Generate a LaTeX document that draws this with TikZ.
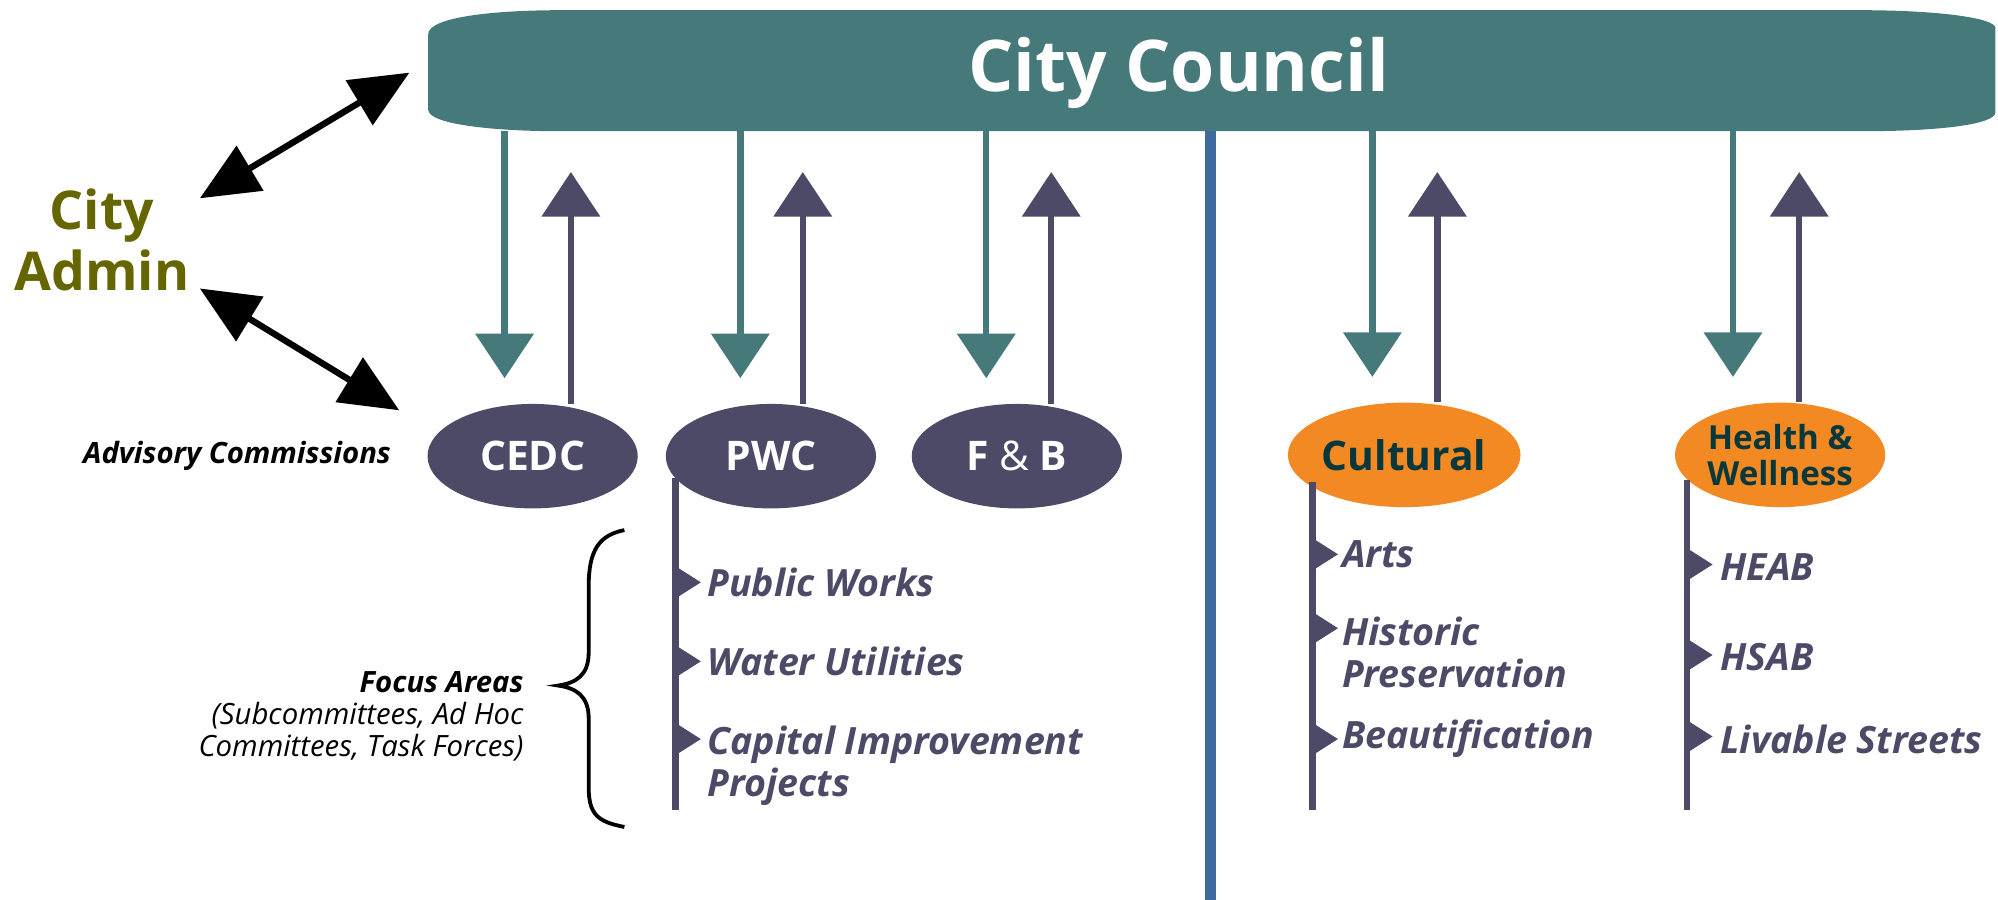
\documentclass[tikz,border=0pt]{standalone}
\usepackage{fontspec}
\setmainfont{Open Sans}
\usepackage{xcolor}
\usetikzlibrary{arrows.meta,shapes.geometric}
\definecolor{councilteal}{RGB}{69,121,122}
\definecolor{commpurple}{RGB}{77,74,104}
\definecolor{culturalorange}{RGB}{242,137,34}
\definecolor{dividerblue}{RGB}{62,106,158}
\definecolor{adminolive}{RGB}{102,102,0}
\definecolor{darkteal}{RGB}{8,56,60}

\begin{document}
\begin{tikzpicture}[x=1pt,y=-1pt]
\tikzset{down/.style={line width=5pt,draw=councilteal,-{Triangle[width=45pt,length=35pt]}}}
\tikzset{up/.style={line width=5pt,draw=commpurple,-{Triangle[width=45pt,length=35pt]}}}
\tikzset{both/.style={line width=5pt,{Triangle[width=40pt,length=46pt]}-{Triangle[width=40pt,length=46pt]}}}
\tikzset{comm/.style={ellipse,fill=commpurple,text=white,minimum width=165pt,minimum height=82pt,inner sep=0pt,font=\bfseries\fontsize{32}{36}\selectfont}}
\tikzset{orangecomm/.style={comm,fill=culturalorange,text=darkteal}}
\tikzset{stem/.style={line width=5pt,draw=commpurple}}
\tikzset{item/.style={anchor=west,align=left,text=commpurple,inner sep=0pt,font=\bfseries\itshape\fontsize{29.5}{33}\selectfont}}
\tikzset{flag/.pic={\fill[commpurple] (-2,-14) -- (20,0) -- (-2,14) -- cycle;}}

\useasboundingbox (0,0) rectangle (1568,706);

\fill[councilteal] (336,27) .. controls (336,13) and (390,8) .. (440,8) -- (1460,8)
  .. controls (1520,8) and (1566,14) .. (1566,22) -- (1566,88)
  .. controls (1566,98) and (1520,103) .. (1460,103) -- (440,103)
  .. controls (390,103) and (336,98) .. (336,86) -- cycle;
\node[text=white,font=\bfseries\fontsize{56}{60}\selectfont] (council) at (925,57) {City Council};
\coordinate (bar) at (950,103);
\coordinate (floor) at (950,706);
\draw[line width=9pt,draw=dividerblue] (bar) -- (floor);

\node[text=adminolive,align=center,inner sep=0pt,font=\bfseries\fontsize{42}{48}\selectfont] (admin) at (80,188) {City\\Admin};
\node[font=\bfseries\itshape\fontsize{23}{26}\selectfont] (advisory) at (186,358) {Advisory Commissions};

\node[comm] (cedc) at (418,358) {CEDC};
\node[comm] (pwc) at (605,358) {PWC};
\node[comm] (fb) at (798,358) {F {\mdseries\&} B};
\node[orangecomm] (cult) at (1102,357) {Cultural};
\node[orangecomm,font=\bfseries\fontsize{26}{28}\selectfont,align=center] (health) at (1397,357) {Health \&\\Wellness};

\draw[both] ([shift={(8pt,-8pt)}]admin.north east) -- ([xshift=-14pt]cedc.west |- council.center);
\draw[both] ([shift={(8pt,2pt)}]admin.south east) -- ([xshift=-22pt,yshift=36pt]cedc.west);

\foreach \c/\dx/\ux in {cedc/396/448,pwc/581/630,fb/774/825,cult/1077/1128,health/1360/1412}{
  \draw[down] (\dx,0 |- bar) -- ([yshift=20pt]\c.north -| \dx,0);
  \draw[up] (\c.north -| \ux,0) -- ([yshift=-32pt]\ux,0 |- bar);
}

\draw[stem] (pwc.193 -| 530,0) -- (530,636);
\draw[stem] (cult.195 -| 1030,0) -- (1030,636);
\draw[stem] (health.195 -| 1324,0) -- (1324,636);

\foreach \m/\y/\t [count=\i] in {457/457/Public Works,519/519/Water Utilities,580/601/{Capital Improvement\\Projects}}{
  \pic at (530,\m) {flag};
  \node[item] (pwc-\i) at (555,\y) {\t};
}
\foreach \m/\y/\t [count=\i] in {435/435/Arts,493/512/{Historic\\Preservation},580/580/Beautification}{
  \pic at (1030,\m) {flag};
  \node[item] (cult-\i) at (1053,\y) {\t};
}
\foreach \m/\y/\t [count=\i] in {443/445/HEAB,514/516/HSAB,578/580/Livable Streets}{
  \pic at (1324,\m) {flag};
  \node[item] (health-\i) at (1350,\y) {\t};
}

\draw[line width=3pt] (490,416) .. controls (470,420) and (462,432) .. (462,460) -- (462,512)
  .. controls (462,530) and (452,536) .. (438,538) .. controls (452,540) and (462,546) .. (462,564)
  -- (462,618) .. controls (462,640) and (470,645) .. (490,649);
\node[anchor=east,align=right,inner sep=0pt,font=\itshape\fontsize{23}{25}\selectfont] (focus) at (411,562)
  {{\bfseries Focus Areas}\\(Subcommittees, Ad Hoc\\Committees, Task Forces)};
\end{tikzpicture}
\end{document}
